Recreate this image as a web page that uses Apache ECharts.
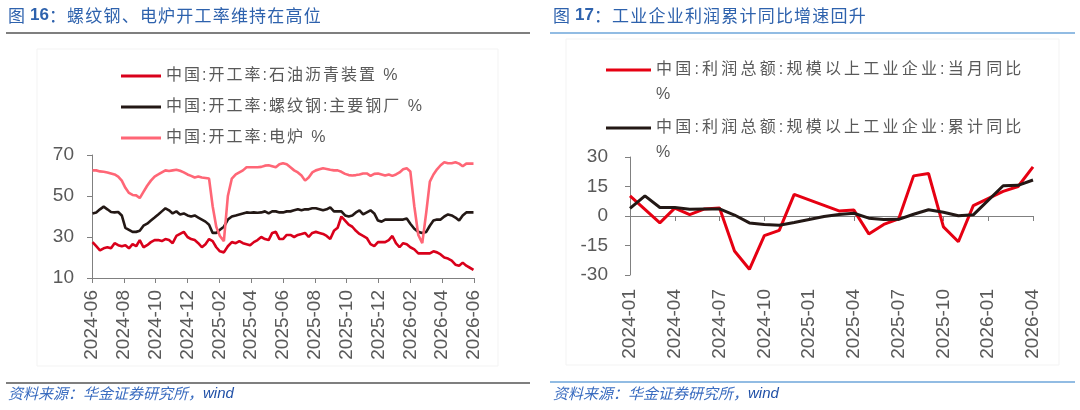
<!DOCTYPE html>
<html>
<head>
<meta charset="utf-8">
<script src="https://cdn.jsdelivr.net/npm/echarts@6/dist/echarts.min.js"></script>
<style>
html, body { margin: 0; padding: 0; background: #fff; }
#main { width: 1080px; height: 410px; }
</style>
</head>
<body>
<div id="main"></div>
<script>
// 左图：周度开工率（2024-06 起）
const weekStart = '2024-06-02';
const asphaltRate = [27.5,25.5,23.5,24.5,25,24.5,27,26,25.5,26,
    24.5,26.5,25.5,28.5,25,26,27.5,28.5,28.5,28,
    29,28.5,27,30.5,31.5,32.5,30,29,28.5,27,
    25,26.5,29,28,25,23,22.5,25.5,27.5,27,
    28,27,26.5,26,27.5,28.5,30,29,28.5,32,
    32.5,29,29,31,31,30,31,31.5,32,30,
    32,32.5,32,31.5,30.5,29,33,34.5,40,38,
    36,35,33,31.5,30.5,29.5,26.5,25.5,27.5,27.5,
    27.5,28.5,30.5,27,25,27,26.5,25,24,22,
    22,22,22,23,22.5,21.5,20,19.5,18.5,16.5,
    16,17.5,16,15,14];
const rebarRate = [41.5,42,43.5,44.8,43.5,42.2,42,42.2,40.5,34.5,
    33.5,32.5,32.5,33,35.5,36.5,38,39.5,41,42.5,
    44,43,41.5,42.5,41,41.5,40.5,40,40.5,39.5,
    38.5,37.5,36,32,32,33.5,35,38.5,40,40.5,
    41,41.5,42,41.8,42,41.8,42,42.5,41.5,42.5,
    42.5,42,42,42.5,42.5,43,43.5,43,43.5,43.5,
    44,44,43.5,43,43.5,44.5,42.5,42.5,42.5,40.5,
    40,40.5,42,43,41,42,43,41.5,38,37.5,
    38.5,38.5,38.5,38.5,38.5,38.5,39,36.5,34,32.5,
    32,32.5,35.5,38,38.5,38.5,40,41,40.5,39.5,
    38,40.5,42,42,42];
const eafRate = [62.5,62.5,62,61.8,61.5,61,60.5,59.5,57.5,54,
    51.5,50.5,50.3,49,52,55,57.5,59.5,60.5,61.5,
    62.5,62.2,62.5,62.8,62.3,61.5,60.5,59.8,59,59.5,
    59,58.8,58.5,45,35,30.5,28,50,58.5,60.5,
    61.5,62.5,64,64,64,64,64.2,64.8,65,64.5,
    64,65.5,66,65.5,64,62.5,61.5,60,57.5,59,
    61.5,62.5,63,63.5,63.2,62.8,62.5,62.5,61.8,60.8,
    60.2,60,60.2,60.5,61,61,59.8,60.8,61,60.5,
    60,60.5,59.8,60.5,61.5,63,63.5,62,45,31,
    27,42,57,60.5,63,65,66.5,66,66,66.5,
    65.8,64.5,65.8,65.8,65.8];
const leftNames = ['中国:开工率:石油沥青装置 %', '中国:开工率:螺纹钢:主要钢厂 %', '中国:开工率:电炉 %'];
const leftYTicks = [10, 30, 50, 70];

// 右图：月度利润同比
const months = ['2024-01','2024-02','2024-03','2024-04','2024-05','2024-06','2024-07','2024-08','2024-09','2024-10','2024-11','2024-12',
    '2025-01','2025-02','2025-03','2025-04','2025-05','2025-06','2025-07','2025-08','2025-09','2025-10','2025-11','2025-12',
    '2026-01','2026-02','2026-03','2026-04'];
const profitMonthly = [10.2,null,-3.5,4.0,0.7,3.6,4.1,-17.8,-27.1,-10.0,-7.3,11.0,
    null,null,2.6,3.0,-9.1,-4.3,-1.5,20.4,21.6,-5.5,-13.1,5.3,
    null,12.5,15.0,25.0];
const profitYtd = [3.9,10.2,4.3,4.3,3.4,3.6,3.6,0.5,-3.5,-4.3,-4.7,-3.3,
    null,-0.3,0.8,1.4,-1.1,-1.8,-1.7,0.9,3.2,1.9,0.1,0.6,
    null,15.4,15.6,18.3];
const rightNames = ['中国:利润总额:规模以上工业企业:当月同比', '中国:利润总额:规模以上工业企业:累计同比'];
const rightYTicks = [-30, -15, 0, 15, 30];

const FONT = '"Liberation Sans", "Noto Sans CJK SC", sans-serif';
const CJK = '"Noto Sans CJK SC", sans-serif';
const GRAY = '#595959';
const BLUE = '#2e62ad';

// 逐字拆成富文本片段，模拟字间距
function spaced(str, key) {
    return str.split('').map(function (c) { return '{' + key + '|' + c + '}'; }).join('');
}

// 周日期 -> 距 2024-06 的月数
function monthOffset(d) {
    let days = new Date(d.getFullYear(), d.getMonth() + 1, 0).getDate();
    return (d.getFullYear() - 2024) * 12 + d.getMonth() - 5 + (d.getDate() - 1) / days;
}
let weekX = [];
let start = new Date(weekStart + 'T00:00:00');
for (let i = 0; i < eafRate.length; i++) {
    let d = new Date(start.getTime());
    d.setDate(d.getDate() + 7 * i);
    weekX.push(monthOffset(d));
}
function pairs(arr) {
    return arr.map(function (v, i) { return [weekX[i], v]; });
}

let titleRich = {
    a: { fontFamily: CJK, fontSize: 17, fill: BLUE, padding: [0, 1.2, 0, 0] },
    b: { fontFamily: FONT, fontSize: 17, fontWeight: 'bold', fill: BLUE }
};
let footRich = {
    a: { fontFamily: CJK, fontSize: 15, fontStyle: 'italic', fill: '#3a6cc0' },
    b: { fontFamily: FONT, fontSize: 15, fontStyle: 'italic', fill: '#1f4fa6' }
};
let legendRich = {
    c: { fontFamily: FONT, fontSize: 16, color: GRAY, padding: [0, 2, 0, 0] }
};
let legendRich2 = {
    c: { fontFamily: FONT, fontSize: 16, color: GRAY, padding: [0, 3.2, 0, 0] }
};

let myChart = echarts.init(document.getElementById('main'));

let option = {
    animation: false,
    backgroundColor: '#fff',
    textStyle: { fontFamily: FONT },
    graphic: [
        // 标题
        { type: 'text', left: 8, top: 7, style: {
            rich: titleRich, text: '{a|图 }{b|16}' + spaced('：螺纹钢、电炉开工率维持在高位', 'a')
        } },
        { type: 'text', left: 553, top: 7, style: {
            rich: titleRich, text: '{a|图 }{b|17}' + spaced('：工业企业利润累计同比增速回升', 'a')
        } },
        { type: 'line', shape: { x1: 6, y1: 33, x2: 530, y2: 33 }, style: { stroke: '#555', lineWidth: 1.5 } },
        { type: 'line', shape: { x1: 550, y1: 33, x2: 1075, y2: 33 }, style: { stroke: '#6ea6da', lineWidth: 1.5 } },
        // 图框
        { type: 'rect', shape: { x: 37, y: 49, width: 461, height: 317 }, style: { fill: 'none', stroke: '#f3f3f3', lineWidth: 1 } },
        { type: 'rect', shape: { x: 566, y: 39, width: 493, height: 326 }, style: { fill: 'none', stroke: '#f3f3f3', lineWidth: 1 } },
        // 底线与来源
        { type: 'line', shape: { x1: 6, y1: 383, x2: 530, y2: 383 }, style: { stroke: '#555', lineWidth: 1.5 } },
        { type: 'line', shape: { x1: 550, y1: 382, x2: 1075, y2: 382 }, style: { stroke: '#6ea6da', lineWidth: 1.5 } },
        { type: 'text', left: 8, top: 386, style: { rich: footRich, text: '{a|资料来源：华金证券研究所，}{b|wind}' } },
        { type: 'text', left: 553, top: 386, style: { rich: footRich, text: '{a|资料来源：华金证券研究所，}{b|wind}' } }
    ],
    legend: [
        {
            data: leftNames, orient: 'vertical', left: 116, top: 61, itemGap: 11,
            icon: 'rect', itemWidth: 40, itemHeight: 3, selectedMode: false,
            formatter: function (name) { return spaced(name, 'c'); },
            textStyle: { fontFamily: FONT, fontSize: 16, color: GRAY, lineHeight: 20, rich: legendRich }
        },
        {
            data: [rightNames[0]], left: 601, top: 27.5, icon: 'rect', itemWidth: 45, itemHeight: 3, selectedMode: false,
            formatter: function (name) { return '\n' + spaced(name, 'c') + '\n{c|%}'; },
            textStyle: { fontFamily: FONT, fontSize: 16, color: GRAY, lineHeight: 25, rich: legendRich2 }
        },
        {
            data: [rightNames[1]], left: 601, top: 85.5, icon: 'rect', itemWidth: 45, itemHeight: 3, selectedMode: false,
            formatter: function (name) { return '\n' + spaced(name, 'c') + '\n{c|%}'; },
            textStyle: { fontFamily: FONT, fontSize: 16, color: GRAY, lineHeight: 25, rich: legendRich2 }
        }
    ],
    grid: [
        { left: 92, top: 155, width: 382, height: 123 },
        { left: 630, top: 157, width: 403, height: 118 }
    ],
    xAxis: [
        {
            gridIndex: 0, type: 'value', min: 0, max: 24, interval: 2,
            axisLine: { lineStyle: { color: '#808080' } },
            axisTick: { show: true, length: 5, lineStyle: { color: '#808080' } },
            splitLine: { show: false },
            axisLabel: {
                rotate: 90, margin: 12, fontSize: 19, color: GRAY,
                formatter: function (v) {
                    let t = 2024 * 12 + 5 + v;
                    let m = t % 12 + 1;
                    return Math.floor(t / 12) + '-' + (m < 10 ? '0' + m : m);
                }
            }
        },
        {
            gridIndex: 1, type: 'category', data: months, boundaryGap: false,
            axisLine: { onZero: true, lineStyle: { color: '#808080' } },
            axisTick: { interval: 2, length: 5, lineStyle: { color: '#808080' } },
            axisLabel: { show: false }
        },
        {
            gridIndex: 1, type: 'category', data: months, boundaryGap: false, position: 'bottom',
            axisLine: { show: false, onZero: false },
            axisTick: { show: false },
            axisLabel: { interval: 2, rotate: 90, margin: 14, fontSize: 19, color: GRAY }
        }
    ],
    yAxis: [
        {
            gridIndex: 0, type: 'value', min: leftYTicks[0], max: leftYTicks[leftYTicks.length - 1], interval: 20,
            axisLine: { show: true, lineStyle: { color: '#808080' } },
            axisTick: { show: true, length: 5, lineStyle: { color: '#808080' } },
            splitLine: { show: false },
            axisLabel: { fontSize: 19, color: GRAY, margin: 18 }
        },
        {
            gridIndex: 1, type: 'value', min: rightYTicks[0], max: rightYTicks[rightYTicks.length - 1], interval: 15,
            axisLine: { show: true, lineStyle: { color: '#808080' } },
            axisTick: { show: true, length: 5, lineStyle: { color: '#808080' } },
            splitLine: { show: false },
            axisLabel: { fontSize: 19, color: GRAY, margin: 22 }
        }
    ],
    series: [
        { name: leftNames[0], type: 'line', xAxisIndex: 0, yAxisIndex: 0, data: pairs(asphaltRate),
          showSymbol: false, color: '#d9001b', lineStyle: { width: 2.6 } },
        { name: leftNames[1], type: 'line', xAxisIndex: 0, yAxisIndex: 0, data: pairs(rebarRate),
          showSymbol: false, color: '#231815', lineStyle: { width: 2.6 } },
        { name: leftNames[2], type: 'line', xAxisIndex: 0, yAxisIndex: 0, data: pairs(eafRate),
          showSymbol: false, color: '#ff6676', lineStyle: { width: 2.6 } },
        { name: rightNames[0], type: 'line', xAxisIndex: 1, yAxisIndex: 1, data: profitMonthly, connectNulls: true,
          showSymbol: false, color: '#e60012', lineStyle: { width: 3 } },
        { name: rightNames[1], type: 'line', xAxisIndex: 1, yAxisIndex: 1, data: profitYtd, connectNulls: true,
          showSymbol: false, color: '#231815', lineStyle: { width: 3 } }
    ]
};

myChart.setOption(option);
</script>
</body>
</html>
